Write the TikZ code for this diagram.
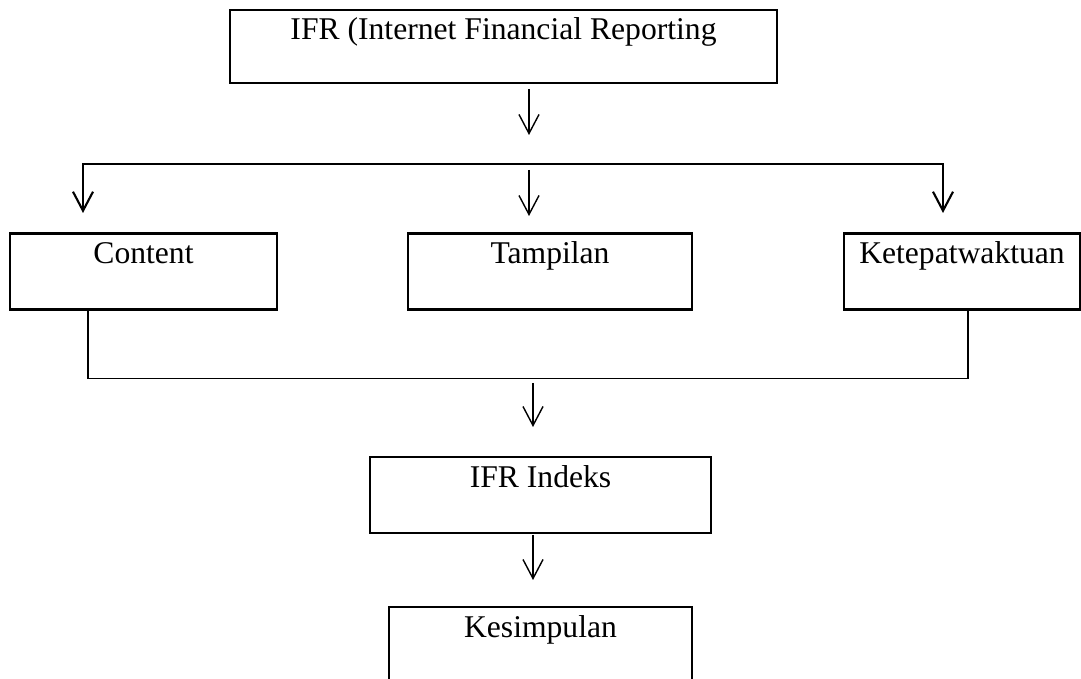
\documentclass[tikz,border=0pt]{standalone}
\usepackage{fontspec}
\setmainfont{Liberation Serif}
\usetikzlibrary{arrows.meta}

\tikzset{
  >={Straight Barb[length=0.38cm, width=0.4cm]},
  kotak/.style={draw, line width=1.3pt, anchor=north, inner xsep=0pt, inner ysep=0pt,
                text height=0.6cm, text depth=0.92cm, font=\fontsize{18}{21.6}\selectfont},
  panah/.style={->, line width=0.8pt},
  garis/.style={line width=1pt}
}

\begin{document}
\begin{tikzpicture}
  \useasboundingbox (0,0) rectangle (21.62,-13.58);

  \node[kotak, minimum width=10.94cm, text height=0.58cm, text depth=0.88cm] (ifr) at (10.07,-0.18) {IFR (Internet Financial Reporting};

  \node[kotak, minimum width=5.34cm] (content) at (2.87,-4.65) {Content};
  \node[kotak, minimum width=5.68cm] (tampilan) at (11.0,-4.65) {Tampilan};
  \node[kotak, minimum width=4.72cm] (ketepatan) at (19.24,-4.65) {Ketepatwaktuan};

  \node[kotak, minimum width=6.82cm] (indeks) at (10.81,-9.12) {IFR Indeks};
  \node[kotak, minimum width=6.06cm] (kesimpulan) at (10.81,-12.12) {Kesimpulan};

  % garis cabang atas
  \coordinate (cabangA) at (1.66,-3.28);
  \coordinate (cabangB) at (18.86,-3.28);
  \coordinate (ujungA) at (1.66,-4.26);
  \coordinate (ujungB) at (18.86,-4.26);
  \draw [<->, line width=1.2pt] (ujungA) -- (cabangA) -- (cabangB) -- (ujungB);

  % garis gabung bawah
  \coordinate (gabungA) at (1.76,-7.57);
  \coordinate (gabungB) at (19.36,-7.57);
  \draw [garis] (content.south -| gabungA) -- (gabungA) -- (gabungB) -- (ketepatan.south -| gabungB);

  \foreach \n/\x/\ya/\yb in {1/10.58/1.78/2.7, 2/10.58/3.4/4.32, 3/10.66/7.66/8.54, 4/10.66/10.7/11.6}
    {
      \coordinate (atas\n) at (\x,-\ya);
      \coordinate (bawah\n) at (\x,-\yb);
      \draw [panah] (atas\n) -- (bawah\n);
    }

\end{tikzpicture}
\end{document}
